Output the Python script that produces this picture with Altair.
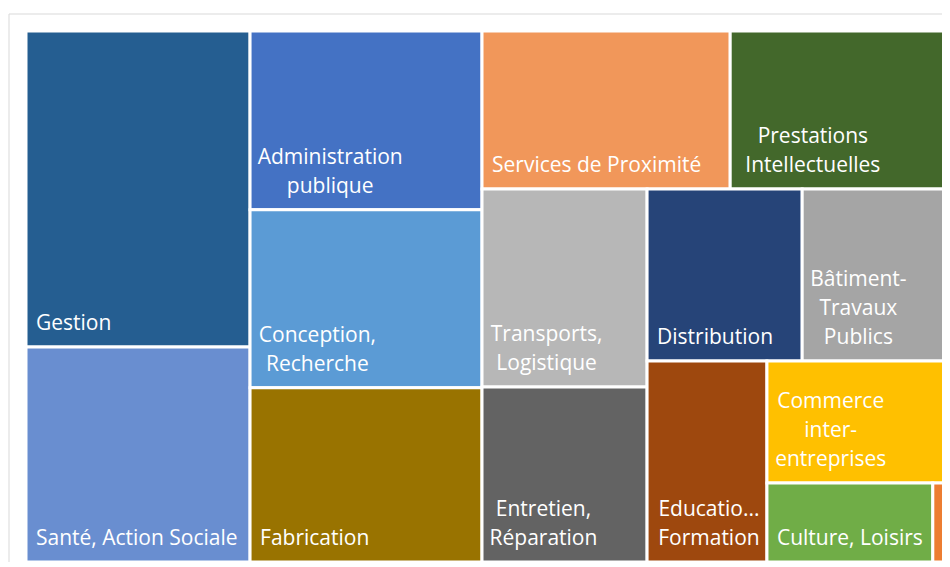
import altair as alt
import pandas as pd

# ---- data (relative sizes of the tiles) ----
categories = [
    "Gestion", "Santé, Action Sociale", "Administration publique",
    "Conception, Recherche", "Fabrication", "Services de Proximité",
    "Prestations Intellectuelles", "Transports, Logistique",
    "Entretien, Réparation", "Distribution", "Bâtiment-Travaux Publics",
    "Education, Formation", "Commerce inter-entreprises",
    "Culture, Loisirs", "Autres",
]
values = [70.8, 48.2, 41.5, 41.3, 40.4, 39.2, 34.4, 32.7, 28.9, 26.7, 25.1, 24.1, 22.1, 13.1, 1.2]
labels = [
    "Gestion", "Santé, Action Sociale", "Administration\npublique",
    "Conception,\nRecherche", "Fabrication", "Services de Proximité",
    "Prestations\nIntellectuelles", "Transports,\nLogistique",
    "Entretien,\nRéparation", "Distribution", "Bâtiment-\nTravaux\nPublics",
    "Educatio...\nFormation", "Commerce\ninter-\nentreprises",
    "Culture, Loisirs", "",
]
colors = [
    "#255E91", "#698ED0", "#4472C4", "#5B9BD5", "#997300", "#F1975A",
    "#43682B", "#B7B7B7", "#636363", "#264478", "#A5A5A5", "#9E480E",
    "#FFC000", "#70AD47", "#ED7D31",
]

W, H = 922, 531
FS = 21
LH = 29
PAD = 10


def worst(row, w):
    s = sum(row)
    return max(max(w * w * r / (s * s), (s * s) / (w * w * r)) for r in row)


def squarify(vals, x, y, dx, dy):
    total = sum(vals)
    areas = [v * dx * dy / total for v in vals]
    rects = []
    i = 0
    while i < len(areas):
        w = min(dx, dy)
        row = [areas[i]]
        j = i + 1
        while j < len(areas) and worst(row + [areas[j]], w) <= worst(row, w):
            row.append(areas[j])
            j += 1
        s = sum(row)
        if dx >= dy:
            cw = s / dy
            yy = y
            for a in row:
                h = a / cw
                rects.append((x, yy, x + cw, yy + h))
                yy += h
            x += cw
            dx -= cw
        else:
            rh = s / dx
            xx = x
            for a in row:
                ww = a / rh
                rects.append((xx, y, xx + ww, y + rh))
                xx += ww
            y += rh
            dy -= rh
        i = j
    return rects


def est_width(line):
    w = 0.0
    for ch in line:
        if ch in "iltfjr,.-' ":
            w += 0.30
        elif ch in "mwMW":
            w += 0.88
        elif ch.isupper():
            w += 0.64
        else:
            w += 0.56
    return w * FS


rects = squarify(values, 0, 0, W, H)
rows = []
for cat, lab, col, (x0, y0, x1, y1) in zip(categories, labels, colors, rects):
    lines = lab.split("\n") if lab else [""]
    maxw = max(est_width(l) for l in lines)
    rows.append({
        "cat": cat, "x0": x0, "y0": y0, "x1": x1, "y1": y1, "color": col,
        "label": lines, "nl": len(lines),
        "tx_left": x0 + PAD, "tx_center": x0 + PAD + maxw / 2,
        "ty": y1 - 13 - (len(lines) - 1) * LH,
    })
df = pd.DataFrame(rows)

xs = alt.Scale(domain=[0, W], nice=False, zero=False)
ys = alt.Scale(domain=[0, H], nice=False, zero=False, reverse=True)

tiles = alt.Chart(df).mark_rect(stroke="white", strokeWidth=3).encode(
    x=alt.X("x0:Q", scale=xs, axis=None),
    x2="x1:Q",
    y=alt.Y("y0:Q", scale=ys, axis=None),
    y2="y1:Q",
    color=alt.Color("color:N", scale=None),
    tooltip=["cat:N"],
)

text_single = alt.Chart(df).transform_filter("datum.nl == 1").mark_text(
    align="left", baseline="bottom", color="white", font="Open Sans",
    fontSize=FS, lineHeight=LH,
).encode(
    x=alt.X("tx_left:Q", scale=xs, axis=None),
    y=alt.Y("ty:Q", scale=ys, axis=None),
    text="label",
)

text_multi = alt.Chart(df).transform_filter("datum.nl > 1").mark_text(
    align="center", baseline="bottom", color="white", font="Open Sans",
    fontSize=FS, lineHeight=LH,
).encode(
    x=alt.X("tx_center:Q", scale=xs, axis=None),
    y=alt.Y("ty:Q", scale=ys, axis=None),
    text="label",
)

frame = alt.Chart(alt.Data(values=[{}])).mark_rect(
    fillOpacity=0, stroke="#d9d9d9", strokeWidth=1
).encode(
    x=alt.value(-17), x2=alt.value(1000), y=alt.value(-17), y2=alt.value(1000)
)

chart = alt.layer(frame, tiles, text_single, text_multi).properties(
    width=W, height=H,
    autosize=alt.AutoSizeParams(type="none"),
    padding={"left": 18, "top": 23, "right": -6, "bottom": 0},
).configure_view(stroke=None)

chart.save("out.html", embed_options={"renderer": "svg", "actions": False})
